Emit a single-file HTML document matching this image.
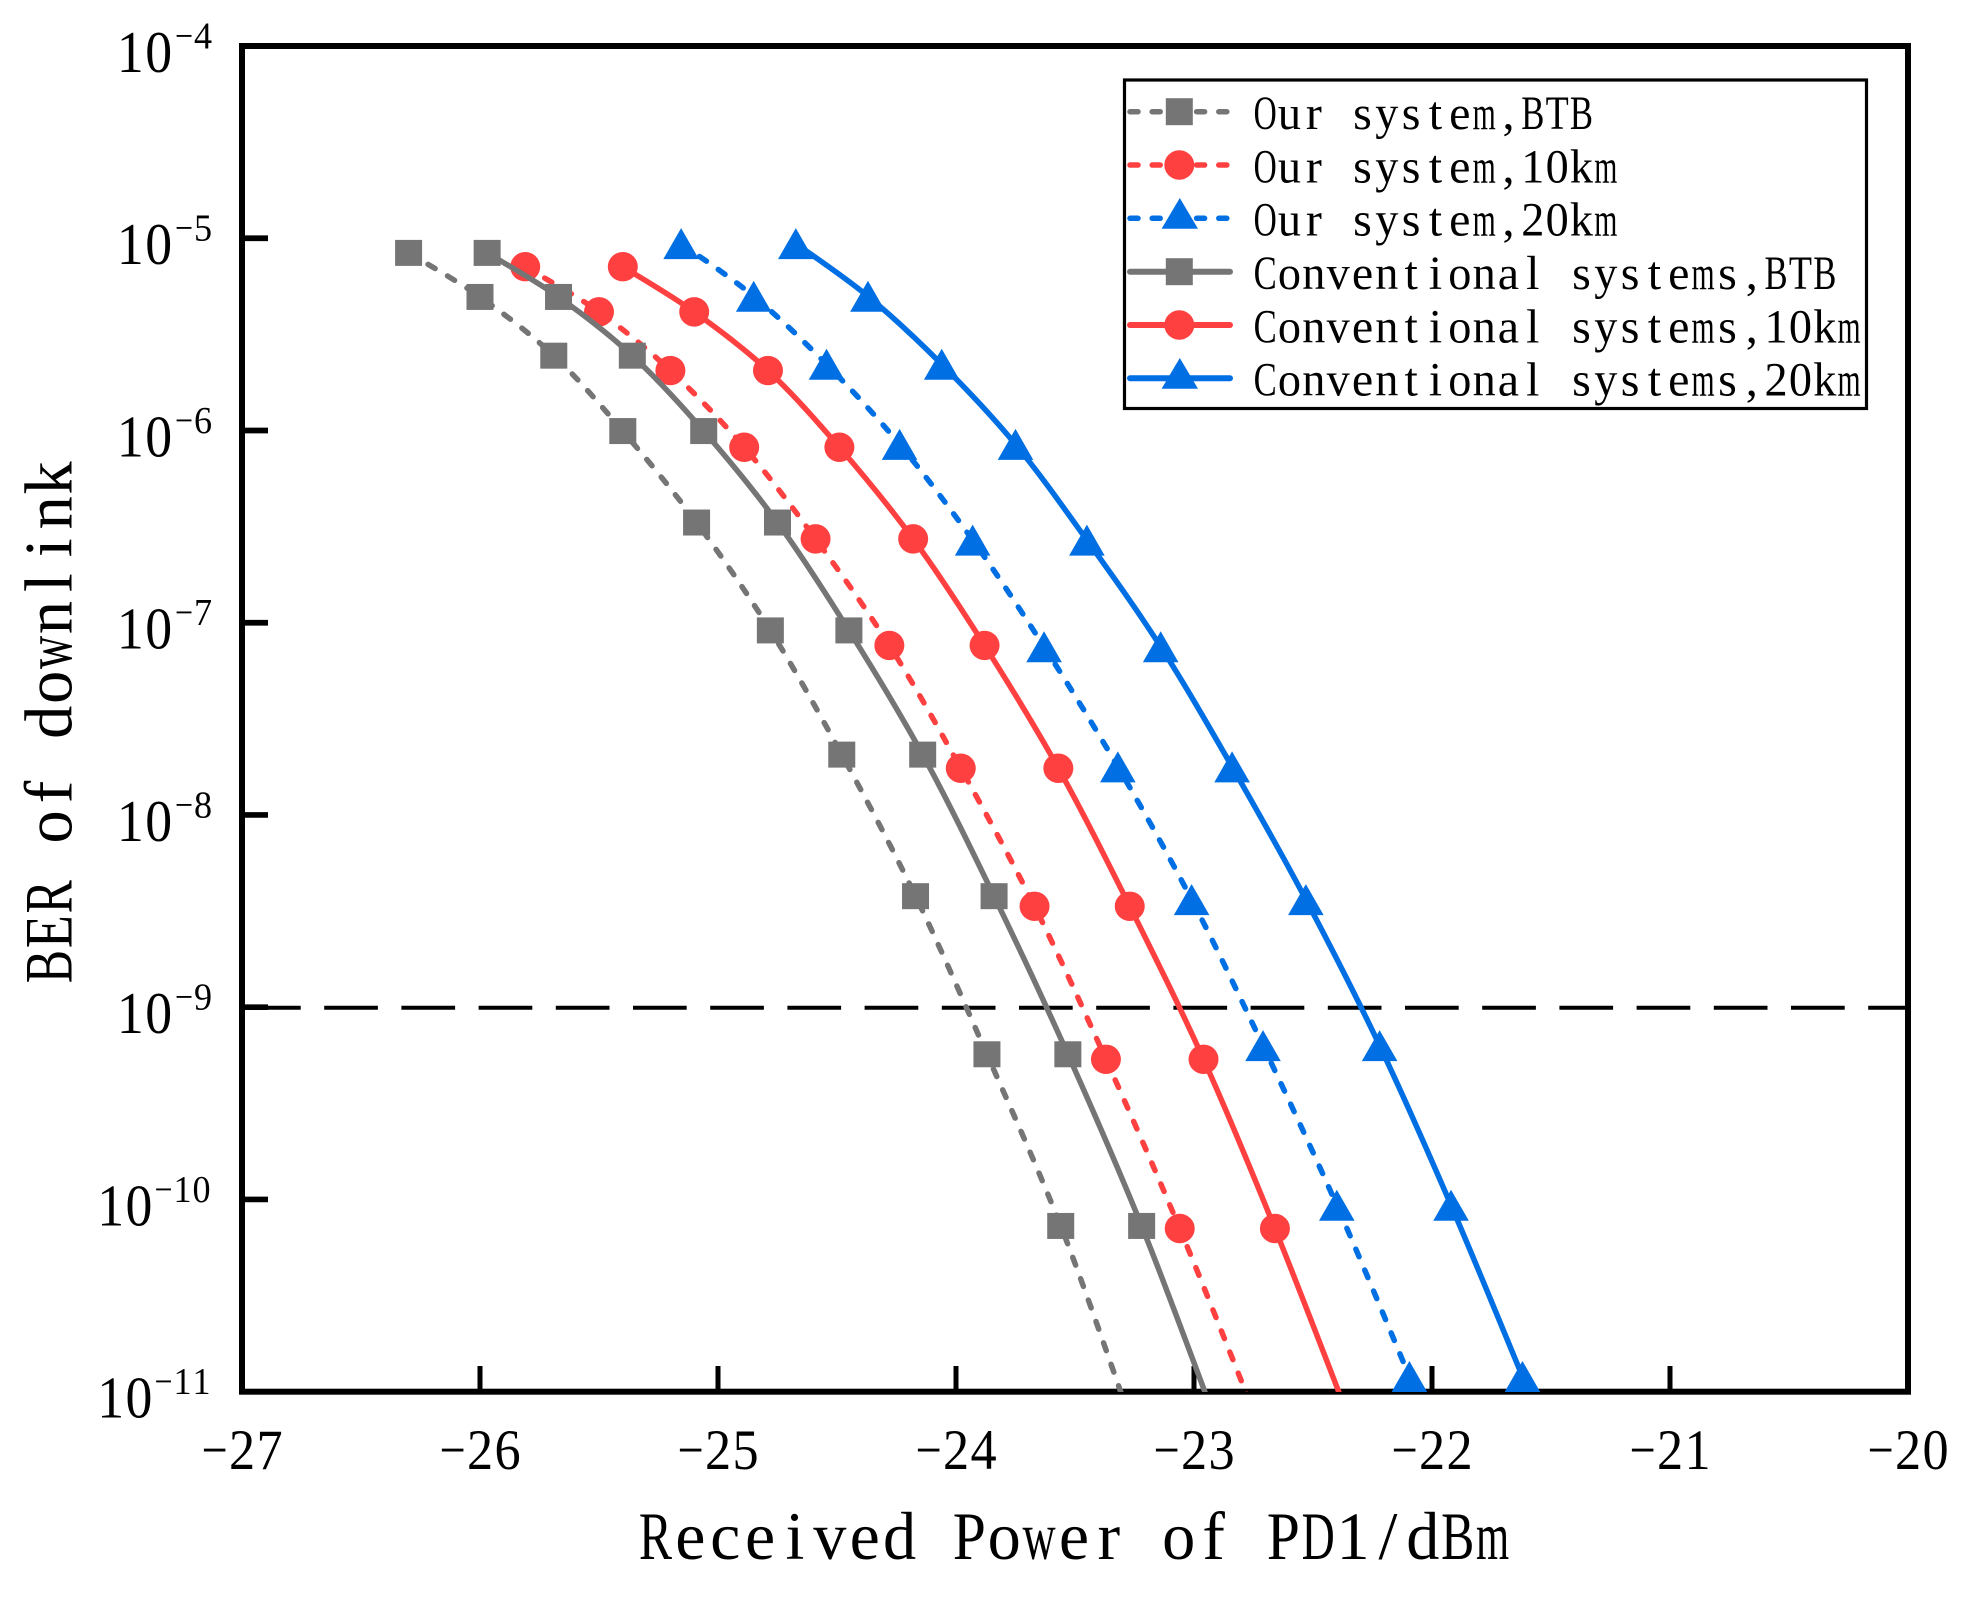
<!DOCTYPE html>
<html lang="en">
<head>
<meta charset="utf-8">
<title>BER of downlink vs received power</title>
<style>
  html,body{margin:0;padding:0;background:#fff;}
  svg{display:block;}
  text{font-family:"Liberation Serif","Noto Serif CJK SC",serif;fill:#000;text-anchor:middle;}
</style>
</head>
<body>
<svg id="chart" xmlns="http://www.w3.org/2000/svg" width="1965" height="1603" viewBox="0 0 1965 1603">
  <defs>
    <clipPath id="plot-clip"><rect x="239" y="43" width="1672" height="1349"></rect></clipPath>
  </defs>
  <rect x="0" y="0" width="1965" height="1603" fill="#fff"></rect>
  <rect x="242" y="46" width="1666" height="1345.7" fill="none" stroke="#000" stroke-width="6"></rect>
  <g id="axes"></g>
  <g id="series"></g>

  <g>
    <rect x="1124.5" y="80" width="742" height="328.5" fill="#fff" stroke="#000" stroke-width="3.2"></rect>

    <g>
      <line x1="1130" y1="111.7" x2="1230" y2="111.7" stroke="#757575" stroke-width="5.5" stroke-dasharray="8 14.2" stroke-linecap="round"></line>
      <rect x="1165.8" y="98.2" width="27" height="27" fill="#757575"></rect>
      <text class="mono" data-x="1253" data-cell="24.33" y="129" font-size="48">Our system,BTB</text>
    </g>
    <g>
      <line x1="1130" y1="165" x2="1230" y2="165" stroke="#FF4040" stroke-width="5.5" stroke-dasharray="8 14.2" stroke-linecap="round"></line>
      <ellipse cx="1179.3" cy="165" rx="15" ry="14.7" fill="#FF4040"></ellipse>
      <text class="mono" data-x="1253" data-cell="24.33" y="182.3" font-size="48">Our system,10km</text>
    </g>
    <g>
      <line x1="1130" y1="218.3" x2="1230" y2="218.3" stroke="#006FE3" stroke-width="5.5" stroke-dasharray="8 14.2" stroke-linecap="round"></line>
      <polygon points="1179.8,198 1198,228.7 1161.6,228.7" fill="#006FE3"></polygon>
      <text class="mono" data-x="1253" data-cell="24.33" y="235.6" font-size="48">Our system,20km</text>
    </g>
    <g>
      <line x1="1130" y1="271.7" x2="1230" y2="271.7" stroke="#757575" stroke-width="6" stroke-linecap="round"></line>
      <rect x="1165.8" y="258.2" width="27" height="27" fill="#757575"></rect>
      <text class="mono" data-x="1253" data-cell="24.33" y="289" font-size="48">Conventional systems,BTB</text>
    </g>
    <g>
      <line x1="1130" y1="325" x2="1230" y2="325" stroke="#FF4040" stroke-width="6" stroke-linecap="round"></line>
      <ellipse cx="1179.3" cy="325" rx="15" ry="14.7" fill="#FF4040"></ellipse>
      <text class="mono" data-x="1253" data-cell="24.33" y="342.3" font-size="48">Conventional systems,10km</text>
    </g>
    <g>
      <line x1="1130" y1="378.3" x2="1230" y2="378.3" stroke="#006FE3" stroke-width="6" stroke-linecap="round"></line>
      <polygon points="1179.8,358 1198,388.7 1161.6,388.7" fill="#006FE3"></polygon>
      <text class="mono" data-x="1253" data-cell="24.33" y="395.6" font-size="48">Conventional systems,20km</text>
    </g>
  </g>

  <text class="mono" data-x="638" data-cell="34.88" y="1559" font-size="68">Received Power of PD1/dBm</text>
  <text class="mono" data-rot="1" data-x="71.7" data-y0="984" data-cell="34.9" font-size="68">BER of downlink</text>
</svg>

<script>
// ---- Axis data ----
var xTicks = [-27, -26, -25, -24, -23, -22, -21, -20];
var yTickExponents = [-4, -5, -6, -7, -8, -9, -10, -11];
var thresholdBer = [1e-9];

// ---- Series data: received power (dBm) and BER ----
var ourBtbPower = [-26.30, -26.00, -25.69, -25.40, -25.09, -24.78, -24.48, -24.17, -23.87, -23.56, -23.285];
var ourBtbBer = [8.39e-6, 4.95e-6, 2.45e-6, 9.93e-7, 3.32e-7, 9.12e-8, 2.06e-8, 3.78e-9, 5.69e-10, 7.28e-11, 8.3e-12];

var our10kmPower = [-25.81, -25.50, -25.20, -24.89, -24.59, -24.28, -23.98, -23.67, -23.37, -23.06, -22.75];
var our10kmBer = [7.11e-6, 4.14e-6, 2.05e-6, 8.18e-7, 2.73e-7, 7.62e-8, 1.75e-8, 3.35e-9, 5.36e-10, 7.06e-11, 7.9e-12];

var our20kmPower = [-25.155, -24.85, -24.544, -24.237, -23.93, -23.63, -23.32, -23.01, -22.71, -22.40, -22.095];
var our20kmBer = [9.38e-6, 4.99e-6, 2.21e-6, 8.47e-7, 2.69e-7, 7.5e-8, 1.78e-8, 3.63e-9, 6.31e-10, 9.33e-11, 1.2e-11];

var convBtbPower = [-25.97, -25.67, -25.36, -25.06, -24.75, -24.45, -24.14, -23.84, -23.53, -23.22, -22.93];
var convBtbBer = [8.39e-6, 4.95e-6, 2.45e-6, 9.93e-7, 3.32e-7, 9.12e-8, 2.06e-8, 3.78e-9, 5.69e-10, 7.28e-11, 8.3e-12];

var conv10kmPower = [-25.40, -25.10, -24.79, -24.49, -24.18, -23.88, -23.57, -23.27, -22.96, -22.66, -22.36];
var conv10kmBer = [7.11e-6, 4.14e-6, 2.05e-6, 8.18e-7, 2.73e-7, 7.62e-8, 1.75e-8, 3.35e-9, 5.36e-10, 7.06e-11, 7.9e-12];

var conv20kmPower = [-24.673, -24.37, -24.06, -23.75, -23.45, -23.14, -22.84, -22.53, -22.22, -21.92, -21.62];
var conv20kmBer = [9.38e-6, 4.99e-6, 2.21e-6, 8.47e-7, 2.69e-7, 7.5e-8, 1.78e-8, 3.63e-9, 6.31e-10, 9.33e-11, 1.2e-11];

var SVGNS = 'http://www.w3.org/2000/svg';
var measureCtx = document.createElement('canvas').getContext('2d');

function xScale(v) { return 242 + (v + 27) * 238; }
function yScale(ber) { return 46 + (-4 - Math.log10(ber)) * 192.24; }

function make(tag, parent) {
  var el = document.createElementNS(SVGNS, tag);
  parent.appendChild(el);
  return el;
}

// Places each character in a fixed-width cell, squeezing only glyphs wider than the cell
function layoutMono(el, x0, y, cell, rotate) {
  var str = el.textContent;
  var size = parseFloat(el.getAttribute('font-size'));
  measureCtx.font = size + 'px "Liberation Serif"';
  el.textContent = '';
  for (var i = 0; i < str.length; i++) {
    var ch = str.charAt(i);
    var ts = document.createElementNS(SVGNS, 'tspan');
    ts.textContent = ch;
    ts.setAttribute('x', ((i + 0.5) * cell).toFixed(2));
    if (ch !== ' ') {
      var adv = measureCtx.measureText(ch).width;
      var limit = cell * 0.95;
      if (adv > limit) {
        ts.setAttribute('textLength', limit.toFixed(2));
        ts.setAttribute('lengthAdjust', 'spacingAndGlyphs');
      }
    }
    el.appendChild(ts);
  }
  el.setAttribute('x', (0.5 * cell).toFixed(2));
  el.setAttribute('y', '0');
  var t = 'translate(' + x0 + ',' + y + ')';
  if (rotate) { t += ' rotate(-90)'; }
  el.setAttribute('transform', t);
}

var staticText = document.querySelectorAll('text.mono');
for (var s = 0; s < staticText.length; s++) {
  var st = staticText[s];
  var cellW = parseFloat(st.getAttribute('data-cell'));
  var px = parseFloat(st.getAttribute('data-x'));
  if (st.getAttribute('data-rot')) {
    layoutMono(st, px, parseFloat(st.getAttribute('data-y0')), cellW, true);
  } else {
    layoutMono(st, px, parseFloat(st.getAttribute('y')), cellW, false);
  }
}

var axes = document.getElementById('axes');
var seriesRoot = document.getElementById('series');

// X ticks and labels
xTicks.forEach(function (v) {
  var x = xScale(v);
  if (v !== -27 && v !== -20) {
    var tick = make('line', axes);
    
    
    tick.setAttribute('x1', x);
    tick.setAttribute('x2', x);
    tick.setAttribute('y1', 1366);
    tick.setAttribute('y2', 1392);
    tick.setAttribute('stroke', '#000');
    tick.setAttribute('stroke-width', 5);
  }
  var label = make('text', axes);
  
  
  label.setAttribute('font-size', 57);
  label.textContent = '\u2212' + Math.abs(v);
  layoutMono(label, x - 41.2, 1469, 27.5, false);
});

// Y ticks and labels
yTickExponents.forEach(function (e) {
  var y = yScale(Math.pow(10, e));
  if (e !== -4 && e !== -11) {
    var tick = make('line', axes);
    
    
    tick.setAttribute('x1', 242);
    tick.setAttribute('x2', 268);
    tick.setAttribute('y1', y);
    tick.setAttribute('y2', y);
    tick.setAttribute('stroke', '#000');
    tick.setAttribute('stroke-width', 5.7);
  }
  var twoDigit = Math.abs(e) >= 10;
  var base = make('text', axes);
  
  
  base.setAttribute('font-size', 59);
  base.textContent = '10';
  layoutMono(base, twoDigit ? 96.5 : 116.2, y + 26, 28.3, false);
  var sup = make('text', axes);
  
  
  sup.setAttribute('font-size', 38);
  sup.textContent = '\u2212' + Math.abs(e);
  layoutMono(sup, twoDigit ? 154 : 174.5, y + 2.5, 19, false);
});

// Threshold reference line
thresholdBer.forEach(function (b) {
  var ref = make('line', axes);
  
  
  ref.setAttribute('x1', xScale(-27) + 5);
  ref.setAttribute('x2', xScale(-20));
  ref.setAttribute('y1', yScale(b) + 0.5);
  ref.setAttribute('y2', yScale(b) + 0.5);
  ref.setAttribute('stroke', '#000');
  ref.setAttribute('stroke-width', 4);
  ref.setAttribute('stroke-dasharray', '53.7 23.5');
});

// Smooth path through all points (Catmull-Rom to cubic Bezier)
function splinePath(pts) {
  var d = 'M' + pts[0][0].toFixed(2) + ' ' + pts[0][1].toFixed(2);
  for (var i = 0; i < pts.length - 1; i++) {
    var p0 = pts[i - 1] || pts[i];
    var p1 = pts[i];
    var p2 = pts[i + 1];
    var p3 = pts[i + 2] || p2;
    var c1x = p1[0] + (p2[0] - p0[0]) / 6;
    var c1y = p1[1] + (p2[1] - p0[1]) / 6;
    var c2x = p2[0] - (p3[0] - p1[0]) / 6;
    var c2y = p2[1] - (p3[1] - p1[1]) / 6;
    d += 'C' + c1x.toFixed(2) + ' ' + c1y.toFixed(2) + ' ' + c2x.toFixed(2) + ' ' + c2y.toFixed(2) + ' ' + p2[0].toFixed(2) + ' ' + p2[1].toFixed(2);
  }
  return d;
}

function drawSeries(name, powers, bers, color, dashed, shape) {
  var group = make('g', seriesRoot);
  
  
  group.setAttribute('clip-path', 'url(#plot-clip)');

  var pts = powers.map(function (p, i) { return [xScale(p), yScale(bers[i])]; });

  var path = make('path', group);
  
  
  path.setAttribute('d', splinePath(pts));
  path.setAttribute('fill', 'none');
  path.setAttribute('stroke', color);
  path.setAttribute('stroke-width', dashed ? 5.5 : 5.5);
  if (dashed) {
    path.setAttribute('stroke-dasharray', '8.2 14.5');
    path.setAttribute('stroke-linecap', 'round');
  }

  pts.forEach(function (pt) {
    var m;
    if (shape === 'square') {
      m = make('rect', group);
      m.setAttribute('x', pt[0] - 13.5);
      m.setAttribute('y', pt[1] - 13);
      m.setAttribute('width', 27);
      m.setAttribute('height', 26);
    } else if (shape === 'circle') {
      m = make('ellipse', group);
      m.setAttribute('cx', pt[0]);
      m.setAttribute('cy', pt[1]);
      m.setAttribute('rx', 15);
      m.setAttribute('ry', 14.7);
    } else {
      m = make('polygon', group);
      m.setAttribute('points', pt[0] + ',' + (pt[1] - 15.5) + ' ' + (pt[0] + 17.8) + ',' + (pt[1] + 15.5) + ' ' + (pt[0] - 17.8) + ',' + (pt[1] + 15.5));
    }
    
    
    m.setAttribute('fill', color);
  });
}

drawSeries('our-btb', ourBtbPower, ourBtbBer, '#757575', true, 'square');
drawSeries('our-10km', our10kmPower, our10kmBer, '#FF4040', true, 'circle');
drawSeries('our-20km', our20kmPower, our20kmBer, '#006FE3', true, 'triangle');
drawSeries('conventional-btb', convBtbPower, convBtbBer, '#757575', false, 'square');
drawSeries('conventional-10km', conv10kmPower, conv10kmBer, '#FF4040', false, 'circle');
drawSeries('conventional-20km', conv20kmPower, conv20kmBer, '#006FE3', false, 'triangle');
</script>
</body>
</html>
